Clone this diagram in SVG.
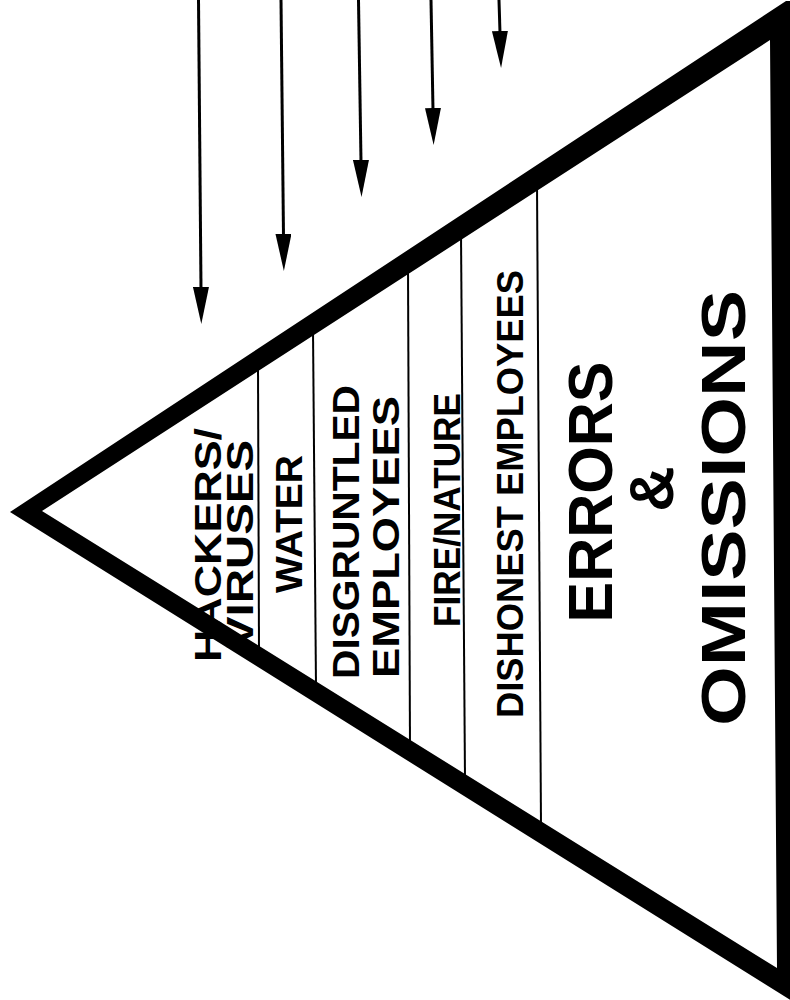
<svg xmlns="http://www.w3.org/2000/svg" width="790" height="1000" viewBox="0 0 790 1000">
  <style>
    .lbl { font-family: "Liberation Sans", Arial, Helvetica, sans-serif; font-weight: bold; fill: #000; text-anchor: middle; }
    .sm { font-size: 37px; }
    .lg { font-size: 63px; }
    .div { stroke: #000; stroke-width: 2; fill: none; }
    .shaft { stroke: #000; stroke-width: 3; fill: none; marker-end: url(#head); }
  </style>
  <defs>
    <marker id="head" viewBox="0 0 37 16" markerWidth="37" markerHeight="16" refX="2" refY="8" markerUnits="userSpaceOnUse" orient="auto">
      <path d="M0,0 L37,8 L0,16 Z" fill="#000"/>
    </marker>
  </defs>
  <rect width="790" height="1000" fill="#fff"/>

  <g id="dividers">
    <line class="div" x1="258" y1="366" x2="259" y2="652"/>
    <line class="div" x1="313" y1="330" x2="316" y2="687"/>
    <line class="div" x1="408" y1="268" x2="410" y2="746"/>
    <line class="div" x1="461" y1="234" x2="465" y2="780"/>
    <line class="div" x1="537" y1="185" x2="541" y2="827"/>
  </g>

  <g id="tier-hackers">
    <text class="lbl sm" transform="translate(221,545) rotate(-90)" textLength="234" lengthAdjust="spacingAndGlyphs">HACKERS/</text>
    <text class="lbl sm" transform="translate(253,544) rotate(-90)" textLength="208" lengthAdjust="spacingAndGlyphs">VIRUSES</text>
  </g>
  <g id="tier-water">
    <text class="lbl sm" transform="translate(302,524) rotate(-90)" textLength="138" lengthAdjust="spacingAndGlyphs">WATER</text>
  </g>
  <g id="tier-disgruntled">
    <text class="lbl sm" transform="translate(359,532) rotate(-90)" textLength="294" lengthAdjust="spacingAndGlyphs">DISGRUNTLED</text>
    <text class="lbl sm" transform="translate(399,537) rotate(-90)" textLength="282" lengthAdjust="spacingAndGlyphs">EMPLOYEES</text>
  </g>
  <g id="tier-fire">
    <text class="lbl sm" transform="translate(460,510) rotate(-90)" textLength="234" lengthAdjust="spacingAndGlyphs">FIRE/NATURE</text>
  </g>
  <g id="tier-dishonest">
    <text class="lbl sm" transform="translate(523,494) rotate(-90)" textLength="448" lengthAdjust="spacingAndGlyphs">DISHONEST EMPLOYEES</text>
  </g>
  <g id="tier-errors">
    <text class="lbl lg" transform="translate(612,492) rotate(-90)" textLength="261" lengthAdjust="spacingAndGlyphs">ERRORS</text>
    <text class="lbl lg" transform="translate(673,489) rotate(-90)">&amp;</text>
    <text class="lbl lg" transform="translate(745,508) rotate(-90)" textLength="436" lengthAdjust="spacingAndGlyphs">OMISSIONS</text>
  </g>

  <g id="pyramid">
    <path fill="#000" fill-rule="evenodd" d="M10,512 L786,1 L795,1 L795,1003 Z M42,511 L770,40 L777,968 Z"/>
  </g>

  <g id="connectors">
    <line class="shaft" x1="198.5" y1="0" x2="201" y2="289"/>
    <line class="shaft" x1="281" y1="0" x2="283.5" y2="236"/>
    <line class="shaft" x1="358.5" y1="0" x2="361" y2="162"/>
    <line class="shaft" x1="431" y1="0" x2="433" y2="110"/>
    <line class="shaft" x1="499" y1="0" x2="500" y2="33"/>
  </g>
</svg>
